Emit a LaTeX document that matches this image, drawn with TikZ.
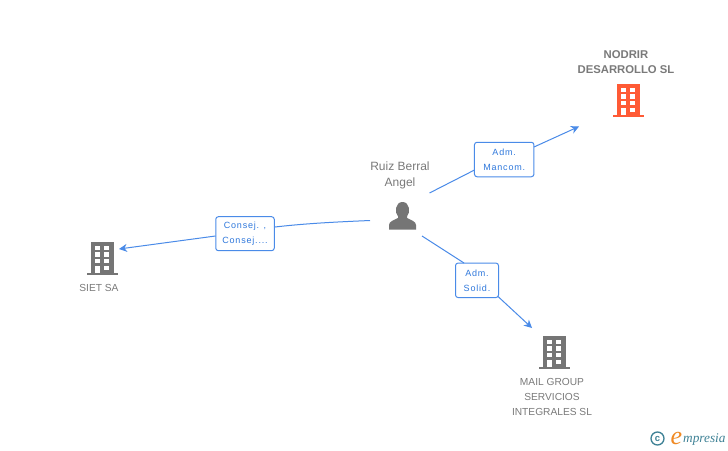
\documentclass[tikz,border=0pt]{standalone}
\usepackage{fontspec}
\setmainfont{Liberation Sans}
\newfontfamily\spacedfont[LetterSpace=9]{Liberation Sans}
\newfontfamily\logofont{Liberation Serif}
\usetikzlibrary{arrows.meta}
\definecolor{icongray}{HTML}{757575}
\definecolor{iconorange}{HTML}{FF5A35}
\definecolor{linkblue}{HTML}{4A8BE8}
\definecolor{labelblue}{HTML}{2F78DC}
\definecolor{txtgray}{HTML}{7A7A7A}
\definecolor{logoteal}{HTML}{3F8296}
\definecolor{logoorange}{HTML}{F08A24}
\tikzset{
  rolebox/.style={draw=linkblue,fill=white,rounded corners=2.6pt,line width=1pt,inner sep=0pt,
    text=labelblue,font=\spacedfont\fontsize{9}{15}\selectfont,align=center},
  link/.style={draw=linkblue,line width=1pt},
  linkarrow/.style={link,-{Stealth[length=8pt,width=8pt,inset=2.5pt]}},
  nametxt/.style={text=txtgray,font=\fontsize{10.2}{15}\selectfont,align=center,inner sep=0pt},
  persontxt/.style={text=txtgray,font=\fontsize{12}{15.5}\selectfont,align=center,inner sep=0pt},
  boldtxt/.style={text=txtgray,font=\bfseries\fontsize{11.3}{15}\selectfont,align=center,inner sep=0pt},
  anchorpt/.style={inner sep=0pt,minimum size=0pt}
}
% building icon centred on #1,#2 in colour #3
\newcommand{\buildingicon}[3]{%
  \begin{scope}[shift={(#1,#2)}]
    \fill[#3] (-11.2,-16.5) rectangle (11.7,16.5);
    \fill[#3] (-15.3,14) rectangle (15.7,16.5);
    \fill[white] (-7,-12.5) rectangle (-2,-8.5);
    \fill[white] (2.3,-12.5) rectangle (7.3,-8.5);
    \fill[white] (-7,-6.2) rectangle (-2,-1.8);
    \fill[white] (2.3,-6.2) rectangle (7.3,-1.8);
    \fill[white] (-7,0.8) rectangle (-2,4.8);
    \fill[white] (2.3,0.8) rectangle (7.3,4.8);
    \fill[white] (-7,7.2) rectangle (-2,14);
    \fill[white] (2.3,7.2) rectangle (7.3,11.5);
  \end{scope}}
\begin{document}
\begin{tikzpicture}[x=1pt,y=-1pt]
\useasboundingbox (0,0) rectangle (728,450);
\fill[white] (0,0) rectangle (728,450);

\buildingicon{102}{258.5}{icongray}
\buildingicon{554}{352.5}{icongray}
\buildingicon{628}{100.5}{iconorange}

% person
\fill[icongray] (389,229.5) -- (389,225) .. controls (389,221.5) and (394,220) .. (398,218)
  -- (398,216.5) .. controls (394.5,213) and (395,202) .. (402.5,202)
  .. controls (410,202) and (410.5,213) .. (407,216.5) -- (407,218)
  .. controls (411,220) and (416,221.5) .. (416,225) -- (416,229.5) -- cycle;

\node[boldtxt] (nodrir) at (626,62.5) {NODRIR\\DESARROLLO SL};
\node[persontxt] (ruiz) at (400,175.5) {Ruiz Berral\\Angel};
\node[nametxt] (siet) at (99,288) {SIET SA};
\node[nametxt] (mail) at (552,397) {MAIL GROUP\\SERVICIOS\\INTEGRALES SL};

\node[rolebox,minimum width=59.5pt,minimum height=34.5pt] (mancom) at (504.2,159.5) {Adm.\\Mancom.};
\node[rolebox,minimum width=58.5pt,minimum height=34pt] (consej) at (245,233.7) {Consej. ,\\Consej....};
\node[rolebox,minimum width=43pt,minimum height=34.5pt] (solid) at (477,280.3) {Adm.\\Solid.};

\coordinate (pa) at (429.5,193);
\coordinate (pb) at (370,220.5);
\coordinate (pc) at (422,236);
\coordinate (ta) at (579,126.5);
\coordinate (tb) at (119,249);
\coordinate (tc) at (532,328);
\coordinate (ma) at (474.5,170);
\coordinate (mb) at (534,147);
\coordinate (ca) at (275,227);
\coordinate (cb) at (215.5,236);
\coordinate (sa) at (464,263);
\coordinate (sb) at (498,296.5);

\draw[link] (pa) -- (ma);
\draw[linkarrow] (mb) -- (ta);
\draw[link] (pb) .. controls (335,222) and (305,223.5) .. (ca);
\draw[linkarrow] (cb) -- (tb);
\draw[link] (pc) -- (sa);
\draw[linkarrow] (sb) -- (tc);

% logo
\node[anchorpt,draw=logoteal,circle,line width=1.3pt,minimum size=13pt,text=logoteal,font=\bfseries\fontsize{9.5}{10}\selectfont] (copy) at (657.5,438.5) {c};
\node[anchorpt,text=logoorange,font=\logofont\itshape\fontsize{26}{26}\selectfont,anchor=base] (elogo) at (676.5,444) {e};
\node[anchorpt,text=logoteal,font=\logofont\itshape\fontsize{13.3}{14}\selectfont,anchor=base west] (rest) at (683,442) {mpresia};
\end{tikzpicture}
\end{document}
